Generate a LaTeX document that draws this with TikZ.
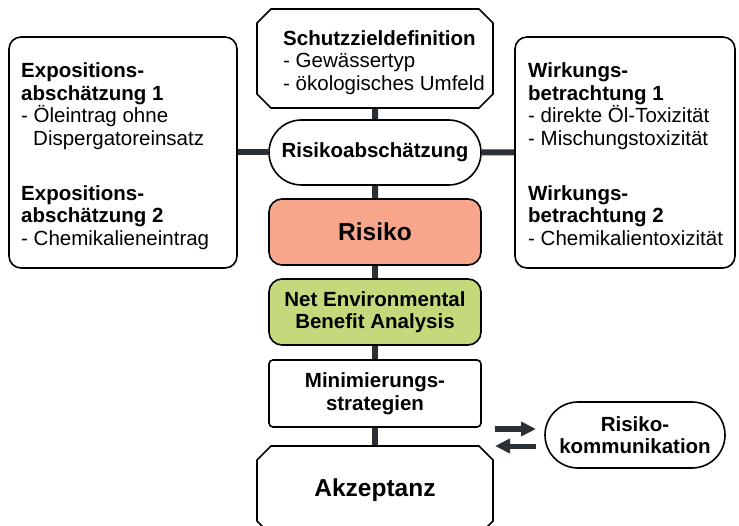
\documentclass[tikz,border=0pt]{standalone}
\usepackage{fontspec}
\setmainfont{Liberation Sans}
\usetikzlibrary{shapes.misc,arrows.meta}
\definecolor{conn}{HTML}{2B3035}
\definecolor{riskfill}{HTML}{F7A68B}
\definecolor{nebafill}{HTML}{C4D97B}
\newcommand{\fsN}{\fontsize{20.5}{22.7}\selectfont}
\newcommand{\fsL}{\fontsize{24.5}{28}\selectfont}
\begin{document}
\begin{tikzpicture}[x=1pt,y=-1pt,
  frame/.style={draw=black, line width=1.6pt, fill=white, inner sep=0pt},
  sidebox/.style={frame, rounded corners=12pt},
  chambox/.style={frame, chamfered rectangle, chamfered rectangle xsep=7pt, chamfered rectangle ysep=7pt},
  pill/.style={frame, rounded rectangle, font=\fsN\bfseries, align=center},
  centerbox/.style={frame, rounded corners=13pt, minimum width=212pt, minimum height=66pt, align=center},
  txt/.style={inner sep=0pt, anchor=north west, align=left, font=\fsN},
  link/.style={draw=conn, line width=6pt},
  flow/.style={draw=conn, line width=5pt, -{Triangle[width=14pt,length=15pt]}}
]
\useasboundingbox (0,0) rectangle (739,526);

% side boxes
\node[sidebox, minimum width=228pt, minimum height=231pt] (expo) at (123,152.5) {};
\node[txt] (expotxt) at (21,62.3) {\textbf{Expositions-}\\\textbf{abschätzung 1}\\- Öleintrag ohne\\\hspace*{12pt}Dispergatoreinsatz\\[32pt]\textbf{Expositions-}\\\textbf{abschätzung 2}\\- Chemikalieneintrag};

\node[sidebox, minimum width=220pt, minimum height=231pt] (wirk) at (625,152.5) {};
\node[txt] (wirktxt) at (528,62.3) {\textbf{Wirkungs-}\\\textbf{betrachtung 1}\\- direkte Öl-Toxizität\\- Mischungstoxizität\\[32pt]\textbf{Wirkungs-}\\\textbf{betrachtung 2}\\- Chemikalientoxizität};

% top chamfered box
\node[chambox, minimum width=236pt, minimum height=99pt] (schutz) at (375,58.5) {\phantom{\rule{150pt}{50pt}}};
\node[txt] (schutztxt) at (283,30) {\textbf{Schutzzieldefinition}\\- Gewässertyp\\- ökologisches Umfeld};

% central column
\node[pill, minimum width=212pt, minimum height=65pt] (risab) at (375,152.5) {Risikoabschätzung};
\node[centerbox, fill=riskfill, font=\fsL\bfseries] (risiko) at (375,232) {Risiko};
\node[centerbox, fill=nebafill, font=\fontsize{20.5}{22}\selectfont\bfseries] (neba) at (375,312) {Net Environmental\\Benefit Analysis};
\node[centerbox, rounded corners=4pt, minimum height=67pt, font=\fontsize{20.5}{23.5}\selectfont\bfseries] (mini) at (375,393.5) {Minimierungs-\\strategien};
\node[chambox, minimum width=236pt, minimum height=89pt, font=\fsL\bfseries] (akz) at (375,490.5) {Akzeptanz};
\node[pill, minimum width=180pt, minimum height=66pt, font=\fontsize{20.5}{22}\selectfont\bfseries] (komm) at (635,435) {Risiko-\\kommunikation};

% connectors
\draw[link] (schutz) -- (risab);
\draw[link] (risab) -- (risiko);
\draw[link] (risiko) -- (neba);
\draw[link] (neba) -- (mini);
\draw[link] (mini) -- (akz);
\draw[link] (expo) -- (risab);
\draw[link] (risab) -- (wirk);

% exchange arrows
\coordinate (arA) at (495,429);
\coordinate (arB) at (536,429);
\coordinate (alA) at (536,446);
\coordinate (alB) at (495,446);
\draw[flow] (arA) -- (arB);
\draw[flow] (alA) -- (alB);
\end{tikzpicture}
\end{document}
